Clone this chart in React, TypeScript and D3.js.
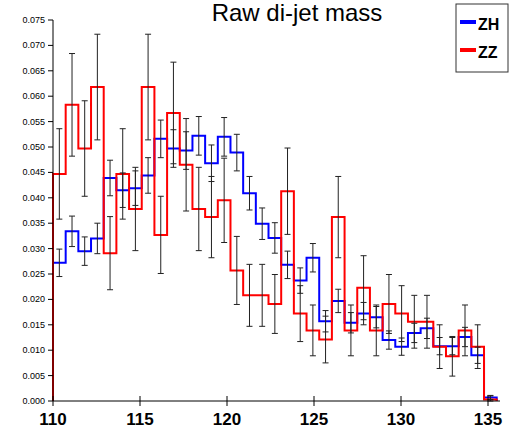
import React from "react";
import * as d3 from "d3";

const binLo = 110, binHi = 135.5, nBins = 35;
const zh = [0.0272,0.0334,0.0295,0.0320,0.0439,0.0415,0.0419,0.0444,0.0516,0.0497,0.0493,0.0522,0.0468,0.0520,0.0489,0.0409,0.0349,0.0321,0.0268,0.0237,0.0282,0.0157,0.0197,0.0154,0.0172,0.0165,0.0120,0.0107,0.0134,0.0143,0.0108,0.0108,0.0126,0.0090,0.0007];
const zhErr = [0.0027,0.0030,0.0028,0.0030,0.0035,0.0034,0.0034,0.0035,0.0037,0.0037,0.0037,0.0038,0.0036,0.0038,0.0036,0.0033,0.0031,0.0030,0.0027,0.0025,0.0028,0.0021,0.0023,0.0020,0.0022,0.0021,0.0018,0.0017,0.0019,0.0020,0.0017,0.0017,0.0019,0.0016,0.0004];
const zz = [0.0447,0.0583,0.0497,0.0618,0.0291,0.0447,0.0378,0.0618,0.0327,0.0567,0.0465,0.0378,0.0362,0.0395,0.0257,0.0208,0.0208,0.0191,0.0413,0.0172,0.0139,0.0121,0.0362,0.0139,0.0223,0.0139,0.0191,0.0172,0.0156,0.0156,0.0107,0.0088,0.0139,0.0107,0.0003];
const zzErr = [0.0089,0.0101,0.0094,0.0104,0.0072,0.0089,0.0082,0.0104,0.0076,0.0100,0.0091,0.0082,0.0080,0.0083,0.0067,0.0061,0.0061,0.0058,0.0085,0.0055,0.0050,0.0046,0.0080,0.0050,0.0063,0.0050,0.0058,0.0055,0.0052,0.0052,0.0043,0.0039,0.0050,0.0043,0.0007];
const xTicks = [110,115,120,125,130,135];
const yTicks = d3.range(0, 0.0751, 0.005);

export default function App() {
  const x = d3.scaleLinear().domain([110, 135]).range([53, 488]);
  const y = d3.scaleLinear().domain([0, 0.075]).range([401, 20]);
  const w = (binHi - binLo) / nBins;
  const edges = d3.range(nBins + 1).map(i => binLo + i * w);
  const step = (vals: number[]) => {
    let p = `M${x(edges[0])},${y(0)}`;
    vals.forEach((v, i) => { p += `L${x(edges[i])},${y(v)}L${x(edges[i + 1])},${y(v)}`; });
    p += `L${x(edges[nBins])},${y(0)}`;
    return p;
  };
  const errs = (vals: number[], e: number[], key: string) => vals.map((v, i) => {
    const cx = x(edges[i] + w / 2);
    const t = y(v + e[i]), b = y(Math.max(0, v - e[i]));
    return (
      <g key={key + i} stroke="#222" strokeWidth={1}>
        <line x1={cx} x2={cx} y1={t} y2={b} />
        <line x1={cx - 3} x2={cx + 3} y1={t} y2={t} />
        <line x1={cx - 3} x2={cx + 3} y1={b} y2={b} />
      </g>
    );
  });
  return (
    <svg width={509} height={433} style={{ position: "absolute", left: 0, top: 0, fontFamily: "Arial, Liberation Sans, sans-serif" }}>
      <rect width={509} height={433} fill="white" />
      <text x={297} y={21} fontSize={24} textAnchor="middle">Raw di-jet mass</text>
      <path d={step(zh)} fill="none" stroke="#0000ff" strokeWidth={2} />
      <path d={step(zz)} fill="none" stroke="#ff0000" strokeWidth={2} />
      {errs(zh, zhErr, "h")}
      {errs(zz, zzErr, "z")}
      <line x1={53} x2={53} y1={20} y2={401} stroke="black" />
      <line x1={53} x2={500} y1={401} y2={401} stroke="black" />
      {yTicks.map(t => (
        <g key={t}>
          <line x1={48} x2={53} y1={y(t)} y2={y(t)} stroke="black" />
          <text x={45} y={y(t) + 3} fontSize={9} textAnchor="end">{t.toFixed(3)}</text>
        </g>
      ))}
      {xTicks.map(t => (
        <g key={t}>
          <line x1={x(t)} x2={x(t)} y1={396} y2={406} stroke="black" />
          <text x={x(t)} y={425} fontSize={17} fontWeight="bold" textAnchor="middle">{t}</text>
        </g>
      ))}
      <rect x={456} y={4} width={52} height={68} fill="white" stroke="#333" />
      <line x1={460} x2={476} y1={22} y2={22} stroke="#0000ff" strokeWidth={4} />
      <text x={478} y={30} fontSize={16} fontWeight="bold">ZH</text>
      <line x1={460} x2={476} y1={50} y2={50} stroke="#ff0000" strokeWidth={4} />
      <text x={478} y={58} fontSize={16} fontWeight="bold">ZZ</text>
    </svg>
  );
}
